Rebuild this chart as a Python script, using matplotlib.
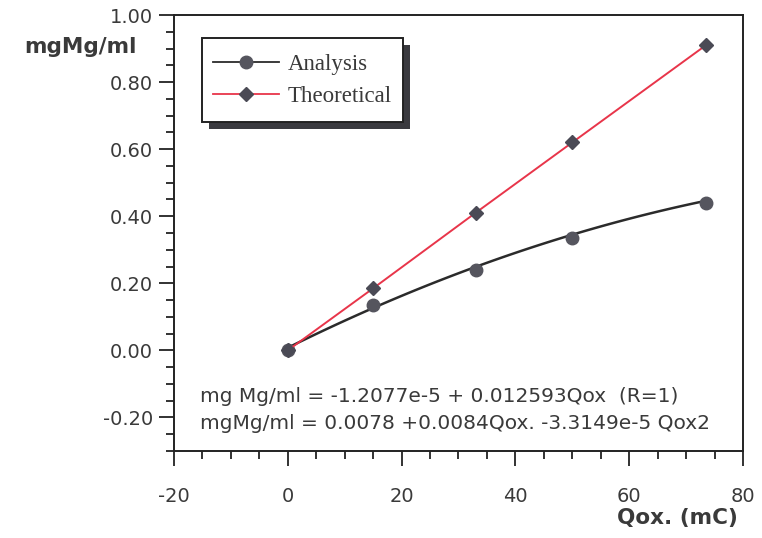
import matplotlib
matplotlib.use("Agg")
import matplotlib.pyplot as plt
import numpy as np
from matplotlib.ticker import MultipleLocator, FormatStrFormatter
from matplotlib.patches import Rectangle
import matplotlib.patheffects as pe

# values
qox = [0, 15, 33, 50, 73.5]
analysis = [0.0, 0.135, 0.24, 0.335, 0.44]
theoretical = [0.0, 0.185, 0.41, 0.62, 0.91]
fit_coef = [0.0078, 0.0084, -3.3149e-5]   # quadratic fit printed on the chart

txt = '#3a3a3a'
plt.rcParams['font.family'] = ['DejaVu Sans']
plt.rcParams['axes.unicode_minus'] = False

fig = plt.figure(figsize=(7.62, 5.38), dpi=100)
ax = fig.add_axes([0.2283, 0.1617, 0.7467, 0.8104])

xs = np.linspace(qox[0], qox[-1], 100)
ys = fit_coef[0] + fit_coef[1] * xs + fit_coef[2] * xs ** 2
ax.plot(xs, ys, color='#2b2b2b', lw=1.8)
ax.plot(qox, analysis, 'o', color='#55555e', ms=9)
ax.plot(qox, theoretical, '-', color='#e8354a', lw=1.4)
ax.plot(qox, theoretical, 'D', color='#4a4a55', ms=7)

ax.set_xlim(-20, 80)
ax.set_ylim(-0.3, 1.0)
ax.xaxis.set_major_locator(MultipleLocator(20))
ax.xaxis.set_minor_locator(MultipleLocator(5))
ax.yaxis.set_major_locator(MultipleLocator(0.2))
ax.yaxis.set_minor_locator(MultipleLocator(0.05))
ax.yaxis.set_major_formatter(FormatStrFormatter('%.2f'))
ax.tick_params(which='both', direction='out', colors='#222222', labelcolor=txt,
               labelsize=14, width=1.3)
ax.tick_params(which='major', length=11)
ax.tick_params(which='minor', length=6)
ax.tick_params(axis='y', pad=4)
ax.tick_params(axis='x', pad=15)
for s in ax.spines.values():
    s.set_color('#222222')
    s.set_linewidth(1.4)

fig.text(0.106, 0.912, 'mgMg/ml', fontsize=15.5, fontweight='bold', color=txt,
         ha='center', va='center')
fig.text(0.889, 0.037, 'Qox. (mC)', fontsize=15.5, fontweight='bold', color=txt,
         ha='center', va='center')

ax.text(0.046, 0.126, 'mg Mg/ml = -1.2077e-5 + 0.012593Qox  (R=1)',
        transform=ax.transAxes, fontsize=14.5, color=txt, va='center')
ax.text(0.046, 0.062, 'mgMg/ml = 0.0078 +0.0084Qox. -3.3149e-5 Qox2',
        transform=ax.transAxes, fontsize=14.5, color=txt, va='center')

# legend: own frame with heavy shadow, frameless legend inside it
box = Rectangle((0.049, 0.7546), 0.3535, 0.1924, transform=ax.transAxes,
                facecolor='white', edgecolor='#222222', lw=1.4, zorder=4)
box.set_path_effects([pe.SimplePatchShadow(offset=(5, -5), shadow_rgbFace='#3a3a3f', alpha=1),
                      pe.Normal()])
ax.add_patch(box)

h1, = ax.plot([], [], '-o', color='#2b2b2b', mfc='#55555e', mec='#55555e', ms=9, lw=1.3)
h2, = ax.plot([], [], '-D', color='#e8354a', mfc='#4a4a55', mec='#4a4a55', ms=7, lw=1.3)
leg = ax.legend([h1, h2], ['Analysis', 'Theoretical'], loc='center left',
                bbox_to_anchor=(0.0685, 0.8498), frameon=False,
                prop={'family': 'Liberation Serif', 'size': 16.5},
                handlelength=2.9, handletextpad=0.35, borderpad=0,
                labelspacing=0.45, borderaxespad=0)
leg.set_zorder(5)
for t in leg.get_texts():
    t.set_color(txt)

fig.savefig('out.png', dpi=100)
